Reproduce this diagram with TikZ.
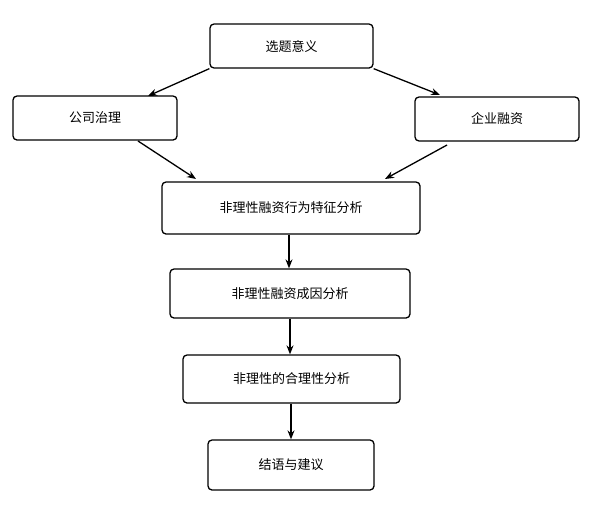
\documentclass[tikz,border=0pt]{standalone}
\usepackage{fontspec}
\newfontfamily\cjk{Noto Sans CJK SC}
\usetikzlibrary{arrows.meta}
\begin{document}
\begin{tikzpicture}[x=1pt,y=-1pt,
  box/.style={draw=black,line width=1.3pt,rounded corners=4pt,font=\cjk\fontsize{13}{15}\selectfont},
  arr/.style={line width=1.3pt,-{Stealth[length=9pt,width=7pt]}}]
\useasboundingbox[fill=white] (0,0) rectangle (604,504);
\node[box,minimum width=163pt,minimum height=44pt] (a) at (291.5,46) {选题意义};
\node[box,minimum width=164pt,minimum height=44pt] (b) at (95,118) {公司治理};
\node[box,minimum width=164pt,minimum height=44pt] (c) at (497,119) {企业融资};
\node[box,minimum width=258pt,minimum height=52pt] (d) at (291,208) {非理性融资行为特征分析};
\node[box,minimum width=240pt,minimum height=49pt] (e) at (290,293.5) {非理性融资成因分析};
\node[box,minimum width=217pt,minimum height=48pt] (f) at (291.5,379) {非理性的合理性分析};
\node[box,minimum width=166pt,minimum height=50pt] (g) at (291,465) {结语与建议};
\coordinate (b1) at (148,96);
\coordinate (c1) at (440,95);
\coordinate (d1) at (196,179);
\coordinate (d2) at (385,179);
\draw[arr] (a.south west) -- (b1);
\draw[arr] (a.south east) -- (c1);
\draw[arr] (138,141) coordinate (b2) -- (d1);
\draw[arr] (447,145) coordinate (c2) -- (d2);
\draw[arr] (d.south -| 289,0) -- (e.north -| 289,0);
\draw[arr] (e.south -| 290,0) -- (f.north -| 290,0);
\draw[arr] (f.south -| 291,0) -- (g.north -| 291,0);
\end{tikzpicture}
\end{document}
